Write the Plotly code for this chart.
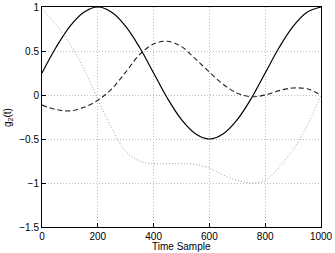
import plotly.graph_objects as go

t = [0, 50, 100, 150, 200, 250, 300, 350, 400, 450, 500, 550, 600, 650, 700, 750, 800, 850, 900, 950, 1000]
solid = [0.25, 0.54, 0.78, 0.94, 1.0, 0.94, 0.78, 0.54, 0.25, -0.04, -0.28, -0.44, -0.5, -0.44, -0.28, -0.04, 0.25, 0.54, 0.78, 0.94, 1.0]
dashed = [-0.115, -0.165, -0.18, -0.14, -0.06, 0.07, 0.26, 0.46, 0.58, 0.61, 0.55, 0.41, 0.26, 0.12, 0.02, -0.02, 0.0, 0.05, 0.08, 0.07, 0.0]
dotted = [0.98, 0.8, 0.58, 0.3, -0.05, -0.38, -0.64, -0.75, -0.78, -0.78, -0.78, -0.79, -0.83, -0.91, -0.97, -1.0, -0.97, -0.82, -0.62, -0.35, 0.0]

xticks = [0, 200, 400, 600, 800, 1000]
yticks = [1, 0.5, 0, -0.5, -1, -1.5]
ytext = ["1", "0.5", "0", "\u22120.5", "\u22121", "\u22121.5"]

fig = go.Figure()
fig.add_trace(go.Scatter(x=t, y=solid, mode="lines", line=dict(color="black", width=1.2, shape="spline")))
fig.add_trace(go.Scatter(x=t, y=dashed, mode="lines", line=dict(color="#222", width=1.1, dash="5px,3px", shape="spline")))
fig.add_trace(go.Scatter(x=t, y=dotted, mode="lines", line=dict(color="#a0a0a0", width=1, dash="1px,2px", shape="spline")))

fig.update_layout(
    width=335, height=253,
    margin=dict(l=42, r=14, t=7, b=26),
    paper_bgcolor="white", plot_bgcolor="white",
    showlegend=False,
    font=dict(family="Liberation Sans, Arial, sans-serif", size=10, color="black"),
    annotations=[
        dict(text="Time Sample", xref="paper", yref="paper", x=0.5, y=-0.118,
             xanchor="center", yanchor="bottom", showarrow=False, borderpad=0, font=dict(size=10)),
        dict(text="g<sub>2</sub>(t)", xref="paper", yref="paper", x=-0.122, y=0.5,
             xanchor="center", yanchor="middle", textangle=-90, showarrow=False, font=dict(size=10)),
    ],
)
fig.update_xaxes(range=[0, 1000], tickvals=xticks, ticks="inside", ticklen=4, tickcolor="black",
                 showgrid=True, gridcolor="#bbb", griddash="1px,2px", gridwidth=1,
                 showline=True, linecolor="black", mirror=True, zeroline=False, automargin=False)
fig.update_yaxes(range=[-1.5, 1], tickvals=yticks, ticktext=ytext, ticks="inside", ticklen=4, tickcolor="black",
                 showgrid=True, gridcolor="#bbb", griddash="1px,2px", gridwidth=1,
                 showline=True, linecolor="black", mirror=True, zeroline=False, automargin=False)

fig.write_html("out.html", config={"displayModeBar": False},
               post_script="document.body.style.margin='0';document.body.style.padding='0';")
